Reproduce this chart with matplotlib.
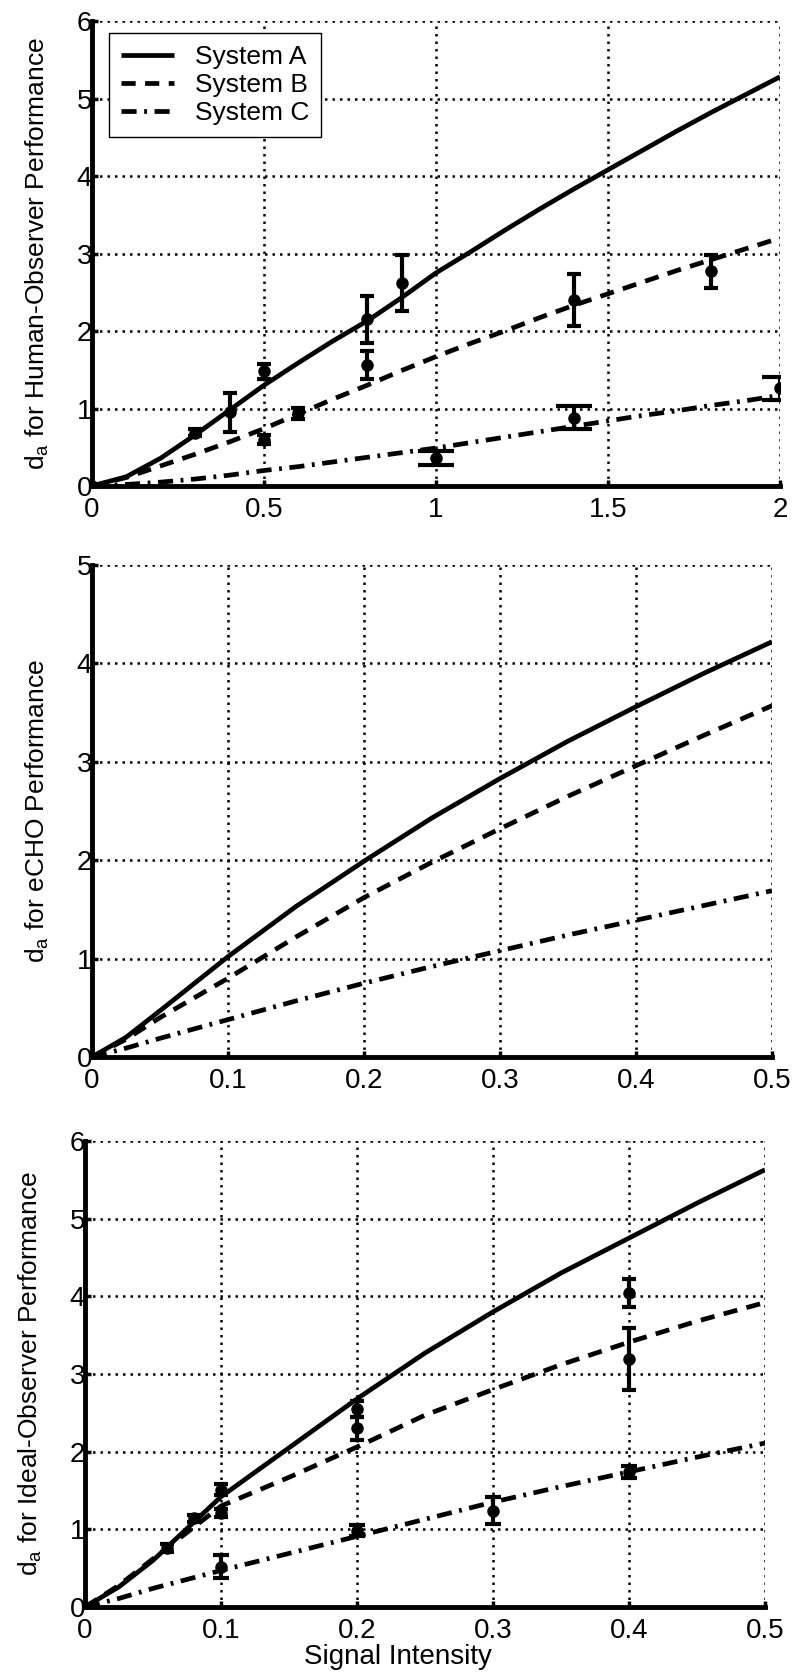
import matplotlib.pyplot as plt
from matplotlib.ticker import FuncFormatter

plt.rcParams['font.family'] = ['Liberation Sans', 'DejaVu Sans']
plt.rcParams['mathtext.fontset'] = 'custom'
plt.rcParams['mathtext.rm'] = 'Liberation Sans'

labels = ['System A', 'System B', 'System C']

# --- panel 1: human observer (curves sampled every 0.1) ---
top_x = [0, 0.1, 0.2, 0.3, 0.4, 0.5, 0.6, 0.7, 0.8, 0.9, 1.0,
         1.1, 1.2, 1.3, 1.4, 1.5, 1.6, 1.7, 1.8, 1.9, 2.0]
top_a = [0, 0.12, 0.36, 0.66, 0.98, 1.30, 1.59, 1.87, 2.13, 2.43, 2.75,
         3.02, 3.30, 3.57, 3.83, 4.08, 4.33, 4.58, 4.82, 5.05, 5.28]
top_b = [0, 0.11, 0.26, 0.41, 0.57, 0.74, 0.93, 1.12, 1.30, 1.49, 1.67,
         1.84, 2.00, 2.17, 2.33, 2.48, 2.63, 2.78, 2.92, 3.06, 3.20]
top_c = [0, 0.02, 0.05, 0.09, 0.14, 0.20, 0.25, 0.31, 0.37, 0.43, 0.49,
         0.56, 0.63, 0.70, 0.77, 0.84, 0.91, 0.97, 1.04, 1.10, 1.17]

top_pa_x = [0, 0.3, 0.4, 0.5, 0.8, 0.9]
top_pa_y = [0, 0.69, 0.95, 1.48, 2.15, 2.62]
top_pa_e = [0, 0.05, 0.25, 0.10, 0.30, 0.36]
top_pb_x = [0.5, 0.6, 0.8, 1.4, 1.8]
top_pb_y = [0.60, 0.94, 1.56, 2.40, 2.77]
top_pb_e = [0.06, 0.07, 0.18, 0.34, 0.21]
top_pc_x = [1.0, 1.4, 2.0]
top_pc_y = [0.36, 0.88, 1.26]
top_pc_e = [0.09, 0.15, 0.15]

# --- panel 2: eCHO ---
mid_x = [0, 0.025, 0.05, 0.1, 0.15, 0.2, 0.25, 0.3, 0.35, 0.4, 0.45, 0.5]
mid_a = [0, 0.20, 0.47, 1.02, 1.53, 1.99, 2.43, 2.83, 3.21, 3.56, 3.90, 4.22]
mid_b = [0, 0.18, 0.40, 0.80, 1.22, 1.62, 1.98, 2.32, 2.65, 2.96, 3.27, 3.57]
mid_c = [0, 0.09, 0.19, 0.38, 0.57, 0.75, 0.92, 1.08, 1.24, 1.39, 1.54, 1.69]

# --- panel 3: ideal observer ---
bot_x = [0, 0.025, 0.05, 0.1, 0.15, 0.2, 0.25, 0.3, 0.35, 0.4, 0.45, 0.5]
bot_a = [0, 0.26, 0.60, 1.42, 2.05, 2.68, 3.27, 3.80, 4.30, 4.75, 5.20, 5.63]
bot_b = [0, 0.28, 0.62, 1.30, 1.67, 2.06, 2.47, 2.80, 3.12, 3.41, 3.68, 3.92]
bot_c = [0, 0.11, 0.24, 0.47, 0.69, 0.91, 1.13, 1.35, 1.55, 1.74, 1.93, 2.11]

bot_pa_x = [0, 0.06, 0.08, 0.1, 0.2, 0.4]
bot_pa_y = [0, 0.76, 1.14, 1.51, 2.55, 4.04]
bot_pa_e = [0, 0.05, 0.05, 0.07, 0.10, 0.18]
bot_pb_x = [0.1, 0.2, 0.4]
bot_pb_y = [1.21, 2.30, 3.19]
bot_pb_e = [0.05, 0.15, 0.40]
bot_pc_x = [0.1, 0.2, 0.3, 0.4]
bot_pc_y = [0.52, 0.98, 1.24, 1.74]
bot_pc_e = [0.15, 0.07, 0.17, 0.08]

styles = ['-', (0, (3, 2)), (0, (3.2, 1.6, 0.6, 1.6))]

fig = plt.figure(figsize=(8, 16.76), dpi=100)
W, H = 800, 1676


def make_ax(left, right, top, bottom):
    return fig.add_axes([left / W, 1 - bottom / H, (right - left) / W, (bottom - top) / H])


def style(ax, xmax, xticks, ymax, ylabel):
    ax.set_xlim(0, xmax)
    ax.set_ylim(0, ymax)
    ax.set_xticks(xticks)
    ax.set_yticks(range(ymax + 1))
    ax.xaxis.set_major_formatter(FuncFormatter(lambda v, p: f'{v:g}'))
    ax.grid(True, color='black', linestyle=(0, (1, 2)), linewidth=1.8)
    ax.spines['top'].set_visible(False)
    ax.spines['right'].set_visible(False)
    ax.spines['left'].set_linewidth(3.5)
    ax.spines['bottom'].set_linewidth(3.5)
    ax.tick_params(direction='in', length=4, width=2.5, labelsize=20)
    ax.tick_params(axis='y', pad=0)
    ax.tick_params(axis='x', pad=8)
    ax.set_ylabel(ylabel, fontsize=19)
    ax.yaxis.set_label_coords(-0.06, 0.5)


def curves(ax, x, ys):
    hs = []
    for y, ls, lab in zip(ys, styles, labels):
        h, = ax.plot(x, y, color='black', linestyle=ls, linewidth=3.4, label=lab,
                     solid_capstyle='butt', dash_capstyle='butt')
        hs.append(h)
    return hs


def points(ax, x, y, e, cap):
    ax.errorbar(x, y, yerr=e, fmt='o', color='black', ms=8, elinewidth=3,
                capsize=cap, capthick=3, zorder=5)


# top panel
ax1 = make_ax(92, 780, 21, 486)
hs = curves(ax1, top_x, [top_a, top_b, top_c])
points(ax1, top_pa_x, top_pa_y, top_pa_e, 5)
points(ax1, top_pb_x, top_pb_y, top_pb_e, 5)
points(ax1, top_pc_x, top_pc_y, top_pc_e, 13)
style(ax1, 2, [0, 0.5, 1, 1.5, 2], 6, r'd$_\mathregular{a}$ for Human-Observer Performance')
leg = ax1.legend(handles=hs, loc='upper left', bbox_to_anchor=(17 / 688, 1 - 12 / 465),
                 borderaxespad=0, fancybox=False, edgecolor='black', framealpha=1,
                 fontsize=19, handlelength=2.0, labelspacing=0.15, borderpad=0.45,
                 handletextpad=0.8)
leg.get_frame().set_linewidth(1.0)

# middle panel
ax2 = make_ax(92, 772, 565, 1057)
curves(ax2, mid_x, [mid_a, mid_b, mid_c])
style(ax2, 0.5, [0, 0.1, 0.2, 0.3, 0.4, 0.5], 5, r'd$_\mathregular{a}$ for eCHO Performance')

# bottom panel
ax3 = make_ax(85, 765, 1141, 1607)
curves(ax3, bot_x, [bot_a, bot_b, bot_c])
points(ax3, bot_pa_x, bot_pa_y, bot_pa_e, 5)
points(ax3, bot_pb_x, bot_pb_y, bot_pb_e, 5)
points(ax3, bot_pc_x, bot_pc_y, bot_pc_e, 6)
style(ax3, 0.5, [0, 0.1, 0.2, 0.3, 0.4, 0.5], 6, r'd$_\mathregular{a}$ for Ideal-Observer Performance')
ax3.set_xlabel('Signal Intensity', fontsize=20)
ax3.xaxis.set_label_coords(0.46, -0.08)

fig.savefig('out.png', dpi=100)
